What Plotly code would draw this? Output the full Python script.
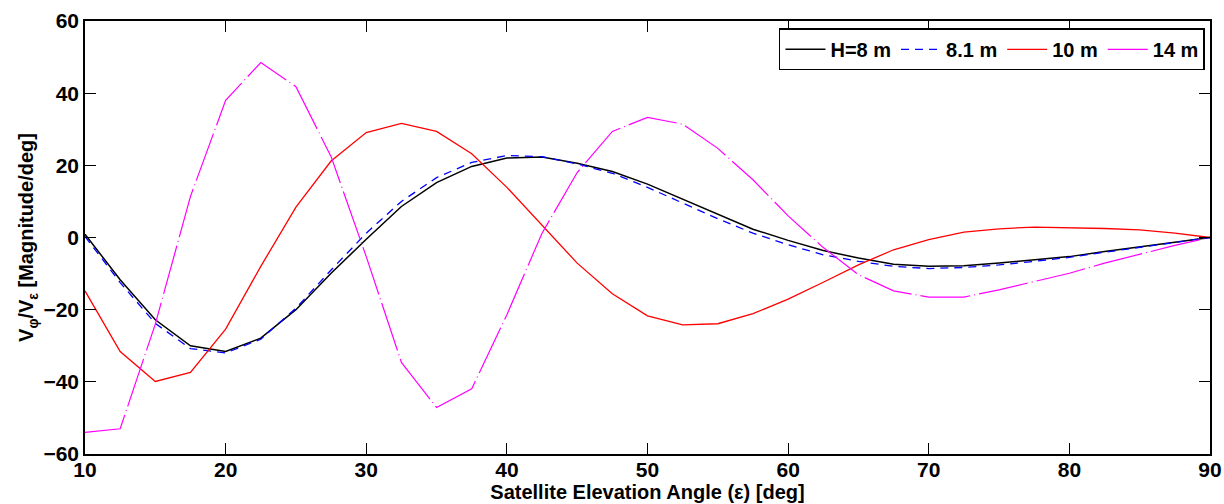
import plotly.graph_objects as go

elev = [10, 12.5, 15, 17.5, 20, 22.5, 25, 27.5, 30, 32.5, 35, 37.5, 40, 42.5, 45, 47.5,
        50, 52.5, 55, 57.5, 60, 62.5, 65, 67.5, 70, 72.5, 75, 77.5, 80, 82.5, 85, 87.5, 90]

h8 = [0.9, -11.7, -22.8, -30.0, -31.6, -27.9, -20.0, -9.9, -0.5, 8.6, 15.2, 19.7, 22.0, 22.3,
      20.6, 18.3, 14.8, 10.6, 6.3, 2.3, -0.8, -3.6, -5.7, -7.4, -8.0, -7.8, -7.1, -6.2, -5.3,
      -3.9, -2.5, -1.3, 0.0]

h81 = [0.3, -12.5, -23.8, -30.8, -32.0, -28.2, -19.6, -9.0, 1.2, 10.0, 16.6, 20.8, 22.7, 22.4,
       20.4, 17.8, 13.9, 9.5, 5.2, 1.2, -2.0, -4.8, -6.6, -8.0, -8.6, -8.3, -7.6, -6.6, -5.5,
       -4.1, -2.7, -1.4, 0.0]

h10 = [-14.8, -31.6, -39.9, -37.4, -25.4, -8.0, 8.4, 21.2, 29.1, 31.6, 29.4, 23.2, 13.9, 3.4,
       -7.1, -15.6, -21.7, -24.2, -23.9, -21.1, -17.1, -12.4, -7.6, -3.4, -0.6, 1.5, 2.4, 2.9,
       2.8, 2.5, 2.1, 1.2, 0.0]

h14 = [-54.0, -53.0, -24.0, 11.4, 38.0, 48.5, 41.8, 22.4, -5.3, -34.6, -47.1, -41.9, -21.4, 1.2,
       18.0, 29.4, 33.3, 31.4, 24.7, 16.0, 6.0, -2.8, -10.3, -14.8, -16.5, -16.5, -14.5, -12.2,
       -9.9, -7.1, -4.6, -2.2, 0.0]

names = ["H=8 m", "8.1 m", "10 m", "14 m"]
x_ticks = [10, 20, 30, 40, 50, 60, 70, 80, 90]
y_ticks = [-60, -40, -20, 0, 20, 40, 60]

series = [h8, h81, h10, h14]
colors = ["#000000", "#0000ff", "#ff0000", "#ff00ff"]
dashes = ["solid", "8px,6px", "solid", "50px,4px,1px,4px"]
widths = [1.5, 1.3, 1.3, 1.2]

fig = go.Figure()
for name, ys, c, d, w in zip(names, series, colors, dashes, widths):
    fig.add_trace(go.Scatter(x=elev, y=ys, mode="lines", name=name,
                             line=dict(color=c, dash=d, width=w)))

fam = "Liberation Sans, Arial, Helvetica, sans-serif"
fig.update_layout(
    width=1224, height=504,
    margin=dict(l=85, r=14, t=21, b=50),
    paper_bgcolor="white", plot_bgcolor="white",
    font=dict(family=fam, color="black"),
    legend=dict(orientation="h", x=0.9955, xanchor="right", y=0.983, yanchor="top",
                bgcolor="white", bordercolor="black", borderwidth=1.5,
                font=dict(size=20, family=fam, weight="bold"),
                itemwidth=40, tracegroupgap=0),
    showlegend=True,
)
fig.update_xaxes(range=[10, 90], tickvals=x_ticks, ticks="inside", ticklen=11,
                 tickwidth=1, tickcolor="black", showgrid=False, zeroline=False,
                 showline=True, linecolor="black", linewidth=1.5, mirror="ticks",
                 automargin=False, ticklabelstandoff=-4,
                 tickfont=dict(size=21, weight="bold"),
                 title=dict(text="Satellite Elevation Angle (ε) [deg]",
                            font=dict(size=20, weight="bold"), standoff=0))
fig.update_yaxes(range=[-60, 60], tickvals=y_ticks, ticks="inside", ticklen=11,
                 tickwidth=1, tickcolor="black", showgrid=False, zeroline=False,
                 showline=True, linecolor="black", linewidth=1.5, mirror="ticks",
                 automargin=False,
                 tickfont=dict(size=21, weight="bold"),
                 title=dict(text="V<sub>φ</sub>/V<sub>ε</sub> [Magnitude/deg]",
                            font=dict(size=20, weight="bold"), standoff=4))

fig.write_html("out.html", config={"displayModeBar": False},
               post_script="document.body.style.margin='0';document.body.style.overflow='hidden';")
